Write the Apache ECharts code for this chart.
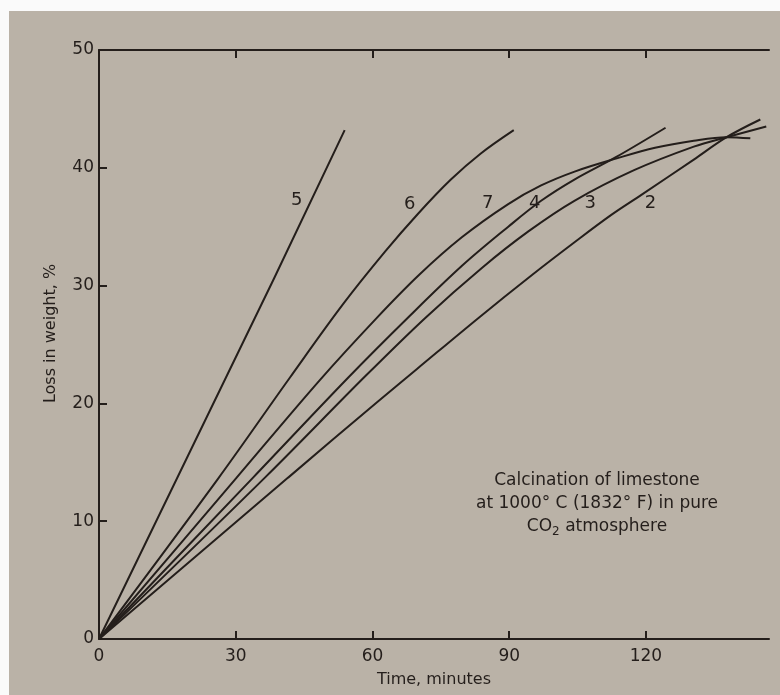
<!DOCTYPE html>
<html>
<head>
<meta charset="utf-8">
<script src="https://cdn.jsdelivr.net/npm/echarts@6/dist/echarts.min.js"></script>
<style>
  html, body { margin: 0; padding: 0; background: #fff; }
  #chart { width: 780px; height: 695px; }
</style>
</head>
<body>
<div id="chart"></div>
<script>
// [time (min), loss in weight (%)]
const curve2 = [[0, 0], [41.5, 13.7], [61, 20.1], [69.7, 22.9], [83.4, 27.3], [95, 30.9], [104.4, 33.7], [112.4, 36.0], [119, 37.7], [130.5, 40.7], [137.7, 42.6], [145.1, 44.1]]
const curve3 = [[0, 0], [36.4, 13.7], [58.4, 22.3], [71.7, 27.3], [84, 31.5], [94.2, 34.6], [104.3, 37.2], [117.4, 39.8], [130.5, 41.8], [137.7, 42.6], [146.4, 43.5]]
const curve4 = [[0, 0], [33.8, 13.7], [54.7, 22.2], [68.1, 27.4], [79.7, 31.7], [89.8, 35.0], [97, 37.2], [104.3, 39.0], [113.4, 40.9], [124.3, 43.4]]
const curve5 = [[0, 0], [19.2, 15.3], [38.4, 30.6], [53.9, 43.2]]
const curve6 = [[0, 0], [26.1, 13.6], [41.9, 22.2], [53.5, 28.4], [62.8, 32.9], [70, 36.1], [77.2, 39.0], [83.7, 41.2], [91, 43.2]]
const curve7 = [[0, 0], [30.2, 13.7], [48.5, 22.0], [60.8, 27.2], [70.2, 30.9], [79.6, 34.1], [89.7, 36.9], [97, 38.5], [104.5, 39.7], [113.6, 40.8], [122, 41.7], [130.5, 42.3], [137.7, 42.6], [142.9, 42.5]]

// curve numbers written on the plot
const labelNames = ['5', '6', '7', '4', '3', '2']
const labelX = [43.4, 68.2, 85.3, 95.6, 107.8, 121.0]
const labelY = [37.2, 36.9, 37.0, 37.0, 37.0, 37.0]

const xTicks = [0, 30, 60, 90, 120]
const yTicks = [0, 10, 20, 30, 40, 50]

const ink = '#241e1b'
const paper = '#bab2a7'
const font = 'DejaVu Sans'

const chart = echarts.init(document.getElementById('chart'))

const curves = [
  { name: '2', data: curve2, smooth: 0.35 },
  { name: '3', data: curve3, smooth: 0.35 },
  { name: '4', data: curve4, smooth: 0.35 },
  { name: '5', data: curve5, smooth: false },
  { name: '6', data: curve6, smooth: 0.35 },
  { name: '7', data: curve7, smooth: 0.35 }
]

const lineSeries = curves.map(c => ({
  name: c.name,
  type: 'line',
  data: c.data,
  smooth: c.smooth,
  showSymbol: false,
  silent: true,
  lineStyle: { color: ink, width: 2 }
}))

const labelSeries = {
  type: 'scatter',
  silent: true,
  symbolSize: 0,
  itemStyle: { color: ink, opacity: 1 },
  data: labelNames.map((n, i) => ({ name: n, value: [labelX[i], labelY[i]] })),
  label: {
    show: true,
    position: 'inside',
    formatter: '{b}',
    fontFamily: font,
    fontSize: 18,
    color: ink,
    textBorderWidth: 0
  }
}

const option = {
  backgroundColor: paper,
  animation: false,
  grid: { left: 99, right: 11, top: 50, bottom: 56 },
  xAxis: [
    {
      type: 'value',
      position: 'bottom',
      min: 0,
      max: 147,
      interval: 30,
      name: 'Time, minutes',
      nameLocation: 'middle',
      nameGap: 33,
      nameTextStyle: { fontFamily: font, fontSize: 16, color: ink },
      axisLine: { show: true, lineStyle: { color: ink, width: 2 } },
      axisTick: { show: true, inside: true, length: 8, customValues: [30, 60, 90, 120], lineStyle: { color: ink, width: 2 } },
      axisLabel: { customValues: xTicks, margin: 9, fontFamily: font, fontSize: 17, color: ink },
      splitLine: { show: false }
    },
    {
      type: 'value',
      position: 'top',
      min: 0,
      max: 147,
      interval: 30,
      axisLine: { show: true, lineStyle: { color: ink, width: 2 } },
      axisTick: { show: true, inside: true, length: 8, customValues: [30, 60, 90, 120], lineStyle: { color: ink, width: 2 } },
      axisLabel: { show: false },
      splitLine: { show: false }
    }
  ],
  yAxis: {
    type: 'value',
    min: 0,
    max: 50,
    interval: 10,
    name: 'Loss in weight, %',
    nameLocation: 'middle',
    nameGap: 40,
    nameRotate: 90,
    nameTextStyle: { fontFamily: font, fontSize: 16, color: ink, padding: [0, 0, 0, 22] },
    axisLine: { show: true, lineStyle: { color: ink, width: 2 } },
    axisTick: { show: true, inside: true, length: 8, customValues: [10, 20, 30, 40], lineStyle: { color: ink, width: 2 } },
    axisLabel: { customValues: yTicks, margin: 5, fontFamily: font, fontSize: 17, color: ink },
    splitLine: { show: false }
  },
  graphic: [
    // white margins of the scanned page
    { type: 'rect', left: 0, top: 0, shape: { width: 780, height: 11 }, style: { fill: '#fafafa' }, silent: true },
    { type: 'rect', left: 0, top: 0, shape: { width: 9, height: 695 }, style: { fill: '#fafafa' }, silent: true },
    {
      type: 'text',
      x: 597,
      y: 469,
      silent: true,
      style: {
        text: 'Calcination of limestone\nat 1000° C (1832° F) in pure\nCO{sub|2} atmosphere',
        align: 'center',
        verticalAlign: 'top',
        fontFamily: font,
        fontSize: 17,
        lineHeight: 23,
        fill: ink,
        rich: {
          sub: { fontFamily: font, fontSize: 12, fill: ink, padding: [10, 0, 0, 0] }
        }
      }
    }
  ],
  series: [...lineSeries, labelSeries]
}

chart.setOption(option)
</script>
</body>
</html>
